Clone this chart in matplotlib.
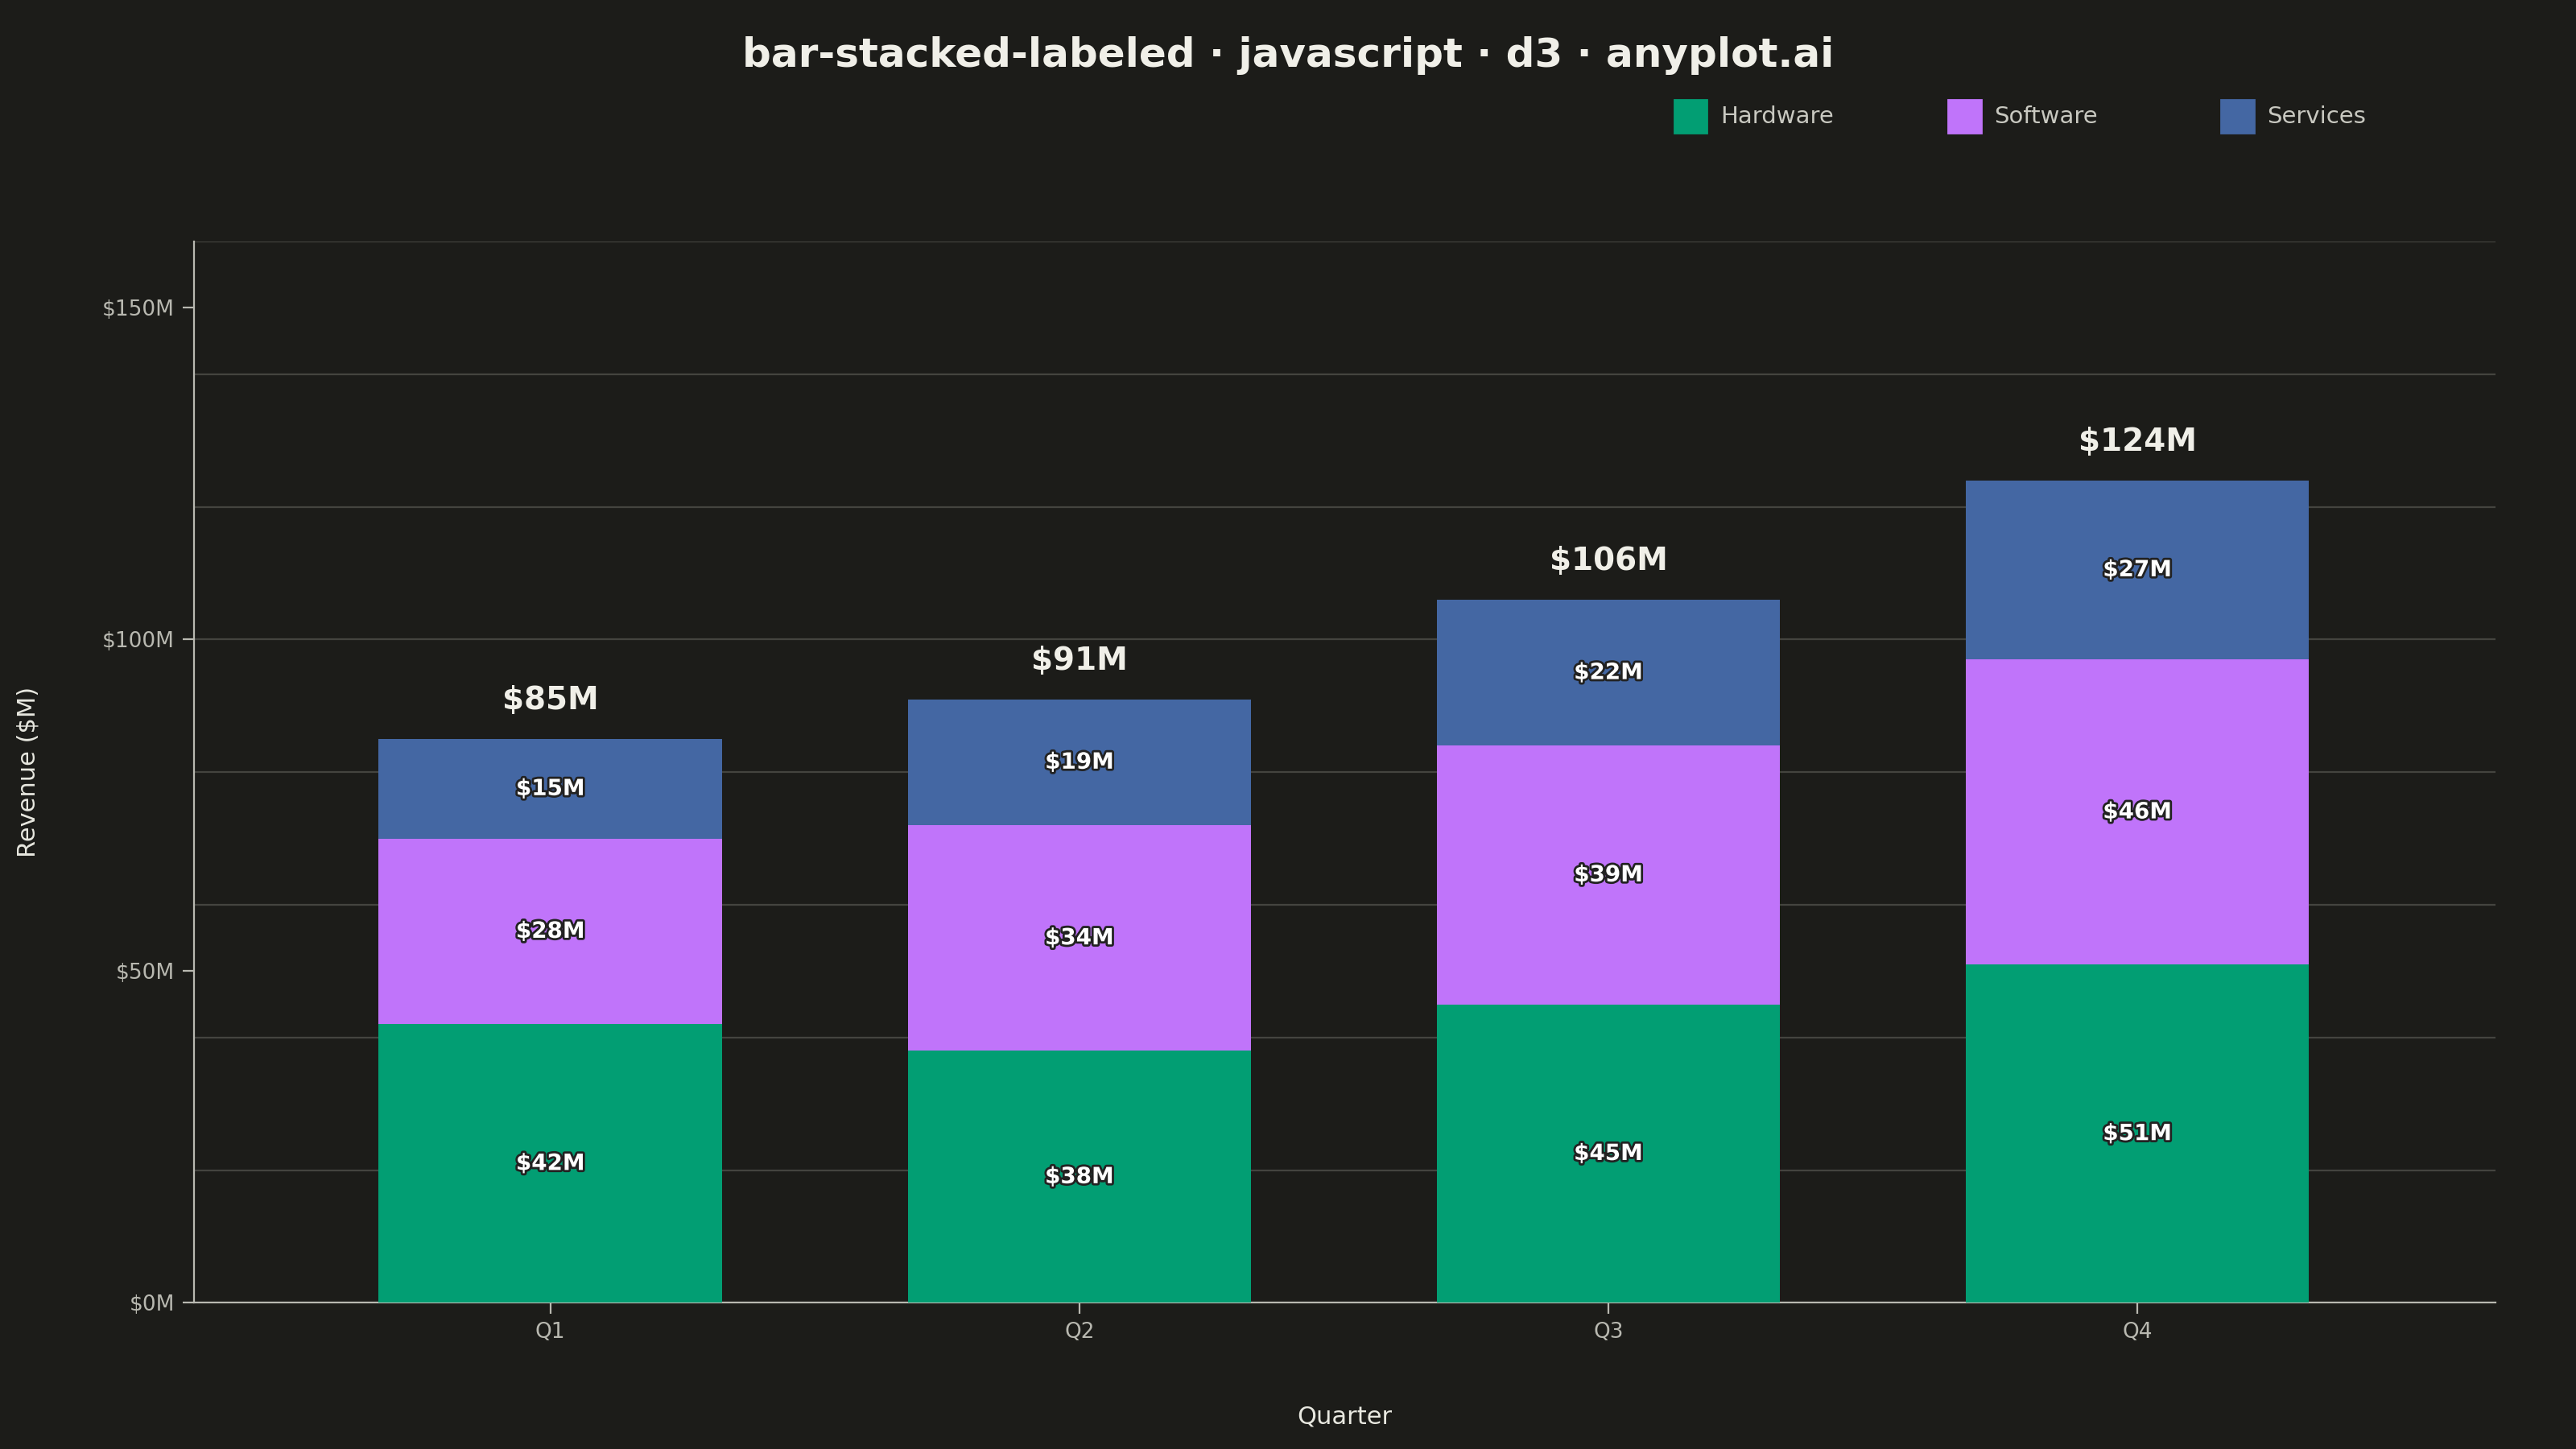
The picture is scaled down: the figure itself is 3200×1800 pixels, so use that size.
import matplotlib
matplotlib.use("Agg")
import matplotlib.pyplot as plt
import matplotlib.patheffects as pe
from matplotlib.patches import Rectangle

quarters = ["Q1", "Q2", "Q3", "Q4"]
hardware = [42, 38, 45, 51]
software = [28, 34, 39, 46]
services = [15, 19, 22, 27]
series = [("Hardware", hardware, "#029E73"), ("Software", software, "#C074FA"), ("Services", services, "#4467A3")]

BG = "#1C1C19"
W, H = 1568, 882
fig = plt.figure(figsize=(16, 9), dpi=200, facecolor=BG)
ax = fig.add_axes([118/W, 1-793/H, (1519-118)/W, (793-147)/H], facecolor=BG)

x = list(range(len(quarters)))
bottoms = [0]*len(quarters)
for name, vals, col in series:
    ax.bar(x, vals, width=0.649, bottom=bottoms, color=col, zorder=3)
    for i, v in enumerate(vals):
        ax.text(i, bottoms[i] + v/2, f"${v}M", ha="center", va="center", color="white",
                fontsize=10, fontweight="bold", zorder=4,
                path_effects=[pe.withStroke(linewidth=2, foreground="#222222")])
    bottoms = [b + v for b, v in zip(bottoms, vals)]
for i, t in enumerate(bottoms):
    ax.text(i, t + 3.5, f"${t}M", ha="center", va="bottom", color="#F0EFE8", fontsize=14, fontweight="bold")

ax.set_xlim(-0.674, 3.677)
ax.set_ylim(0, 160)
for g in range(20, 161, 20):
    ax.axhline(g, color="#44443F", lw=0.8, zorder=1)
ax.set_yticks([0, 50, 100, 150])
ax.set_yticklabels(["$0M", "$50M", "$100M", "$150M"])
ax.set_xticks(x)
ax.set_xticklabels(quarters)
ax.tick_params(colors="#B8B8B0", labelsize=9.5, length=5, width=0.8)
for s in ["top", "right"]:
    ax.spines[s].set_visible(False)
for s in ["left", "bottom"]:
    ax.spines[s].set_color("#B8B8B0")
    ax.spines[s].set_linewidth(0.8)
ax.set_ylabel("Revenue ($M)", color="#E8E8E0", fontsize=11, labelpad=28)
ax.set_xlabel("Quarter", color="#E8E8E0", fontsize=11, labelpad=28)

fig.text(0.5, 1-34/H, "bar-stacked-labeled · javascript · d3 · anyplot.ai", ha="center", va="center",
         color="#F0EFE8", fontsize=18, fontweight="bold")
for (name, _, col), lx in zip(series, [1019, 1186, 1352]):
    fig.patches.append(Rectangle((lx/W, 1-81/H), 20/W, 20/H, transform=fig.transFigure, color=col))
    fig.text((lx+28)/W, 1-71/H, name, ha="left", va="center", color="#C8C8C0", fontsize=10.5)

fig.savefig("out.png", facecolor=BG)
